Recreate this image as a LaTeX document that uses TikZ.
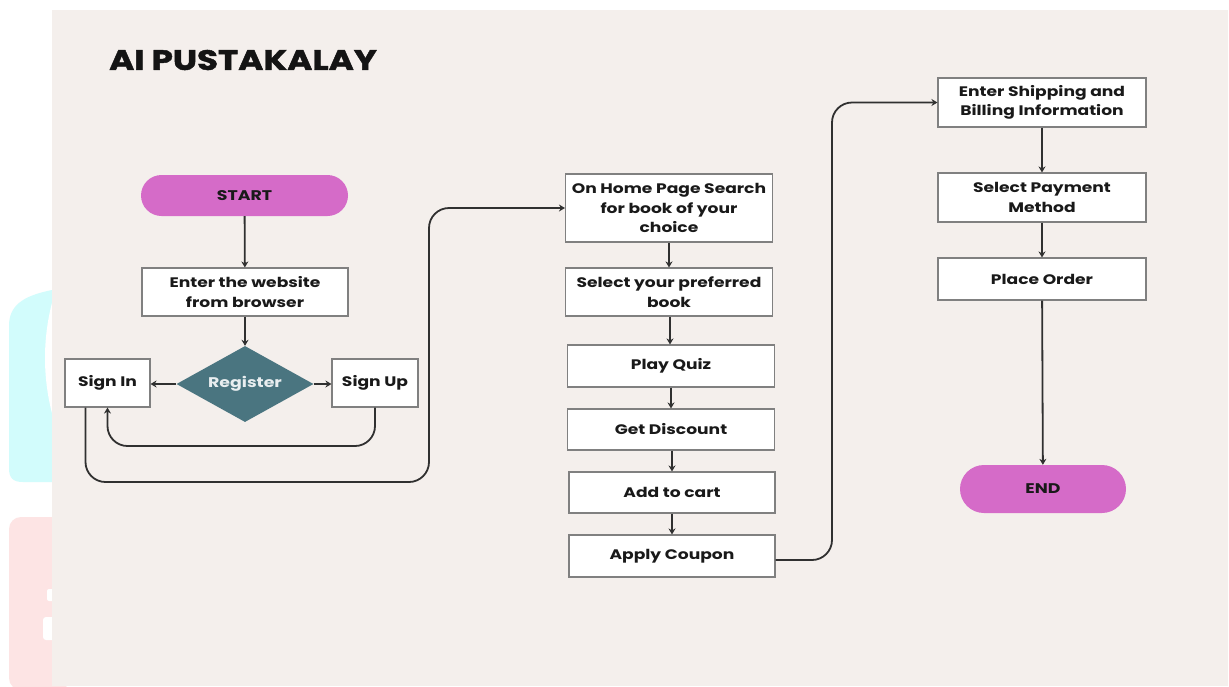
\documentclass[tikz,border=0pt]{standalone}
\usepackage{fontspec}
\setmainfont[FakeStretch=1.24]{Poppins}
\newfontfamily\titlefont[FakeStretch=1.22, FakeBold=1.6]{Poppins}
\usetikzlibrary{shapes.geometric,shapes.misc,arrows.meta}
\definecolor{bg}{HTML}{F4EFEC}
\definecolor{pillc}{HTML}{D56BC8}
\definecolor{tealc}{HTML}{4A7580}
\definecolor{boxgray}{HTML}{808080}
\definecolor{linec}{HTML}{303030}
\definecolor{cyanc}{HTML}{D2FCFC}
\definecolor{pinkc}{HTML}{FDE4E4}
\begin{document}
\begin{tikzpicture}[x=1pt,y=-1pt,
  box/.style={draw=boxgray, line width=1.1pt, fill=white, align=center,
    font=\fontsize{13.8}{19.5}\selectfont\bfseries, inner sep=0pt, text=black!90},
  pill/.style={rounded rectangle, fill=pillc, draw=none, inner sep=0pt,
    font=\fontsize{14}{16}\selectfont\bfseries, text=black!90},
  arr/.style={draw=linec, line width=1.8pt, -{Stealth[length=6pt,width=7pt]}},
  loop/.style={arr, rounded corners=20pt}]
\useasboundingbox (0,0) rectangle (1229,686);
\fill[white] (0,0) rectangle (1229,686);
% faded decorations on the left
\fill[cyanc] (60,290) -- (52,290) .. controls (22,296) and (9,306) .. (9,326)
  -- (9,468) .. controls (9,478) and (13,482) .. (23,482) -- (60,482) -- cycle;
\fill[white] (264.6,358) circle (219.6);
\fill[pinkc, rounded corners=12pt] (9,517) rectangle (70,690);
\fill[white, rounded corners=3pt] (43,617) rectangle (60,640);
\fill[white, rounded corners=2pt] (47,589) rectangle (60,601);
% panel
\fill[bg] (52,10) rectangle (1228,686);
% title
\node[text=black!92, font=\fontsize{28}{28}\selectfont\titlefont\bfseries] (title) at (243,60) {AI PUSTAKALAY};
% left column
\node[pill, minimum width=207pt, minimum height=41pt] (start) at (244.5,195.5) {START};
\node[box, minimum width=206pt, minimum height=48pt] (enter) at (245,292) {Enter the website\\from browser};
\node[diamond, fill=tealc, aspect=1.8, inner sep=0pt, minimum width=137pt, minimum height=76pt,
  text=white!88!tealc, font=\fontsize{14}{16}\selectfont\bfseries] (reg) at (245,384) {Register};
\node[box, minimum width=85pt, minimum height=48pt] (signin) at (107.5,383) {Sign In};
\node[box, minimum width=86pt, minimum height=48pt] (signup) at (375,383) {Sign Up};
% middle column
\node[box, minimum width=207pt, minimum height=68pt] (home) at (669,208) {On Home Page Search\\for book of your\\choice};
\node[box, minimum width=207pt, minimum height=48pt] (pref) at (669,292) {Select your preferred\\book};
\node[box, minimum width=207pt, minimum height=42pt] (quiz) at (671,366) {Play Quiz};
\node[box, minimum width=207pt, minimum height=41pt] (disc) at (671,429.5) {Get Discount};
\node[box, minimum width=206pt, minimum height=41pt] (cart) at (672,492.5) {Add to cart};
\node[box, minimum width=206pt, minimum height=42pt] (coupon) at (672,556) {Apply Coupon};
% right column
\node[box, minimum width=208pt, minimum height=49pt] (ship) at (1042,102.5) {Enter Shipping and\\Billing Information};
\node[box, minimum width=208pt, minimum height=49pt] (pay) at (1042,197.5) {Select Payment\\Method};
\node[box, minimum width=208pt, minimum height=42pt] (order) at (1042,279) {Place Order};
\node[pill, minimum width=166pt, minimum height=48pt] (end) at (1043,489) {END};
% connectors
\draw[arr] (start) -- (enter);
\draw[arr] (enter) -- (reg);
\draw[arr] (reg.west) -- (signin.east |- reg.west);
\draw[arr] (reg.east) -- (signup.west |- reg.east);
\draw[loop] (signup.south) -- (375,446) -- (107.5,446) -- (signin.south);
\draw[loop] ([xshift=-22pt]signin.south) -- (85.5,482) -- (429,482) -- (429,208) -- (home.west);
\draw[arr] (home.south) -- (home.south |- pref.north);
\draw[arr] ([xshift=1pt]pref.south) -- ([xshift=1pt]pref.south |- quiz.north);
\draw[arr] (quiz) -- (quiz.center |- disc.north);
\draw[arr] ([xshift=1pt]disc.south) -- ([xshift=1pt]disc.south |- cart.north);
\draw[arr] (cart) -- (coupon);
\draw[loop] ([yshift=-4pt]coupon.east) -- (832,560) -- (832,102.5) -- (ship.west);
\draw[arr] (ship) -- (pay);
\draw[arr] (pay) -- (order);
\draw[arr] (order) -- (end);
\end{tikzpicture}
\end{document}
